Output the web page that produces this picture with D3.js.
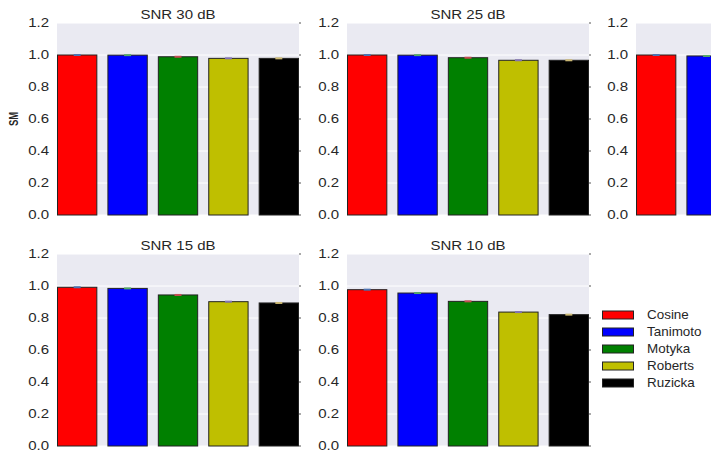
<!DOCTYPE html>
<html>
<head>
<meta charset="utf-8">
<script src="https://cdn.jsdelivr.net/npm/d3@7"></script>
<style>
  html, body { margin: 0; padding: 0; background: #fff; }
  svg { display: block; }
  text { font-family: "Liberation Sans", Arial, sans-serif; fill: #262626; }
</style>
</head>
<body>
<svg id="chart" width="711" height="455"></svg>
<script>
// ---- data ----
const measures = ["Cosine", "Tanimoto", "Motyka", "Roberts", "Ruzicka"];
const barColors = ["#ff0000", "#0000ff", "#008000", "#bfbf00", "#000000"];
const errColors = ["#4c72b0", "#55a868", "#c44e52", "#8172b2", "#ccb974"];
const panelTitles = ["SNR 30 dB", "SNR 25 dB", "SNR 20 dB", "SNR 15 dB", "SNR 10 dB"];
const snr30 = [1.000, 0.999, 0.989, 0.979, 0.979];
const snr25 = [1.000, 0.999, 0.983, 0.967, 0.967];
const snr20 = [1.000, 0.994, 0.970, 0.945, 0.940];
const snr15 = [0.992, 0.985, 0.944, 0.902, 0.894];
const snr10 = [0.977, 0.956, 0.904, 0.837, 0.821];
const panelValues = [snr30, snr25, snr20, snr15, snr10];
const yTicks = [0.0, 0.2, 0.4, 0.6, 0.8, 1.0, 1.2];
const yLabel = "SM";

// ---- layout ----
const SX = 1.25; // horizontal text stretch of the reference image
const W = 711;
const colX = [57, 347, 636];
const rowTop = [23, 254];
const plotW = 242, plotH = 192;
const svg = d3.select("#chart");

function stretchedText(g, x, y, str, opts) {
  const t = g.append("text")
    .attr("transform", `translate(${x},${y}) scale(${opts.sx || SX},1)` + (opts.rotate ? ` rotate(${opts.rotate})` : ""))
    .attr("text-anchor", opts.anchor || "start")
    .style("font-size", (opts.size || 12) + "px")
    .text(str);
  if (opts.weight) t.style("font-weight", opts.weight);
  if (opts.dy) t.attr("dy", opts.dy);
  return t;
}

const positions = [[0,0],[1,0],[2,0],[0,1],[1,1]];
positions.forEach(([c, r], i) => {
  const x0 = colX[c], y0 = rowTop[r];
  const g = svg.append("g").attr("transform", `translate(${x0},${y0})`);
  // matplotlib style: bars of width 0.8 at integer positions, xlim [-0.4, 4.4]
  const xl = d3.scaleLinear().domain([-0.4, measures.length - 0.6]).range([0, plotW]);
  const y = d3.scaleLinear().domain([0, 1.2]).range([plotH, 0]);

  g.append("rect").attr("width", plotW).attr("height", plotH).attr("fill", "#eaeaf2");
  // grid
  g.selectAll(".grid").data(yTicks).enter().append("line")
    .attr("x1", 0).attr("x2", plotW)
    .attr("y1", d => y(d)).attr("y2", d => y(d))
    .attr("stroke", "#ffffff").attr("stroke-width", 1);
  // right side small ticks
  g.selectAll(".rt").data(yTicks).enter().append("line")
    .attr("x1", plotW).attr("x2", plotW + 2)
    .attr("y1", d => y(d)).attr("y2", d => y(d))
    .attr("stroke", "#555").attr("stroke-width", 1);
  // tick labels
  yTicks.forEach(t => {
    stretchedText(g, -8, y(t), d3.format(".1f")(t), {anchor: "end", size: 12, dy: "0.36em"});
  });
  // bars
  const vals = panelValues[i];
  measures.forEach((m, j) => {
    const bx = xl(j - 0.4), bw = xl(j + 0.4) - xl(j - 0.4);
    g.append("rect")
      .attr("x", bx + 0.5).attr("y", y(vals[j]))
      .attr("width", bw - 1).attr("height", y(0) - y(vals[j]))
      .attr("fill", barColors[j]).attr("stroke", "#222").attr("stroke-width", 1);
    g.append("line")
      .attr("x1", xl(j) - 3.5).attr("x2", xl(j) + 3.5)
      .attr("y1", y(vals[j])).attr("y2", y(vals[j]))
      .attr("stroke", errColors[j]).attr("stroke-width", 2);
  });
  // title (the third panel's title lies beyond the right edge of the figure)
  if (x0 + plotW / 2 + 40 < W) {
    stretchedText(g, plotW / 2, -4, panelTitles[i], {anchor: "middle", size: 12});
  }
  if (c === 0 && r === 0) {
    stretchedText(g, -39, plotH / 2, yLabel, {anchor: "middle", size: 9.5, weight: "bold", rotate: -90});
  }
});

// legend
const lg = svg.append("g").attr("transform", "translate(602,315)");
measures.forEach((m, j) => {
  const yy = j * 17;
  lg.append("rect").attr("x", 0.5).attr("y", yy - 4).attr("width", 31).attr("height", 8)
    .attr("fill", barColors[j]).attr("stroke", "#222").attr("stroke-width", 1);
  stretchedText(lg, 45, yy, m, {size: 12, dy: "0.36em", sx: 1.12});
});
</script>
</body>
</html>
